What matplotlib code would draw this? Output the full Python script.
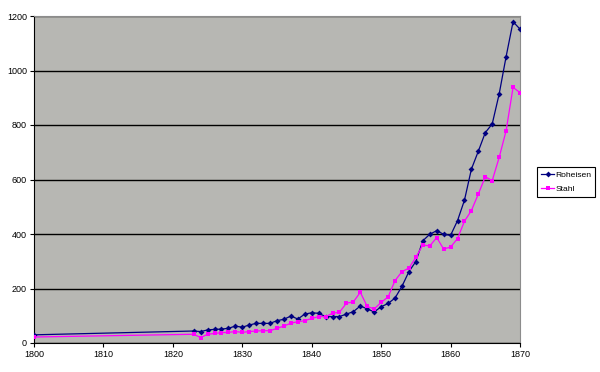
import matplotlib
matplotlib.use("Agg")
import matplotlib.pyplot as plt
import numpy as np

# years: 1800, then every year 1823-1870
YEARS = [1800] + list(range(1823, 1871))

ROHEISEN = [30,
            44, 42, 48, 50, 51, 54, 62, 58, 66, 72,
            72, 72, 82, 87, 99, 88, 106, 111, 109, 97,
            97, 97, 106, 115, 136, 125, 114, 133, 145, 165,
            208, 262, 299, 375, 399, 412, 399, 395, 449, 524,
            638, 704, 772, 804, 914, 1051, 1179, 1152]

STAHL = [22,
         32, 20, 32, 35, 38, 39, 42, 39, 42, 44,
         45, 45, 54, 62, 73, 78, 82, 90, 97, 97,
         109, 113, 146, 151, 186, 134, 125, 149, 169, 229,
         262, 275, 314, 360, 356, 387, 345, 352, 383, 447,
         486, 547, 610, 596, 681, 779, 938, 919]

X_TICKS = list(range(1800, 1871, 10))
Y_TICKS = list(range(0, 1201, 200))

NAVY, MAGENTA, PLOT_BG = "#000080", "#ff00ff", "#b7b7b3"

fig = plt.figure(figsize=(6.0, 3.72), dpi=100)
ax = fig.add_axes([34 / 600, 29 / 372, 486 / 600, 327 / 372])
ax.set_facecolor(PLOT_BG)

ax.plot(YEARS, ROHEISEN, color=NAVY, lw=0.9, marker="D", ms=3.0, mew=0,
        label="Roheisen", zorder=3)
ax.plot(YEARS, STAHL, color=MAGENTA, lw=0.9, marker="s", ms=3.2, mew=0,
        label="Stahl", zorder=3)

ax.set_xlim(1800, 1870)
ax.set_ylim(0, 1200)
ax.set_xticks(X_TICKS)
ax.set_yticks(Y_TICKS)
ax.yaxis.grid(True, color="black", lw=1.0)
ax.set_axisbelow(True)
ax.tick_params(axis="both", direction="out", length=3, width=0.8,
               labelsize=6.5, colors="black", pad=2)
for lab in ax.get_xticklabels() + ax.get_yticklabels():
    lab.set_fontfamily("Liberation Sans")
ax.spines["left"].set_color("black")
ax.spines["bottom"].set_color("black")
ax.spines["top"].set_color("#8c8c8c")
ax.spines["right"].set_color("#8c8c8c")

leg = fig.legend(loc="upper left", bbox_to_anchor=(537 / 600, 1 - 167 / 372),
                 prop={"family": "Liberation Sans", "size": 6.1},
                 frameon=True, fancybox=False, edgecolor="black",
                 framealpha=1.0, handlelength=1.6, borderpad=0.45,
                 labelspacing=0.75, handletextpad=0.1, borderaxespad=0)
leg.get_frame().set_linewidth(0.8)

fig.savefig("out.png", dpi=100)
